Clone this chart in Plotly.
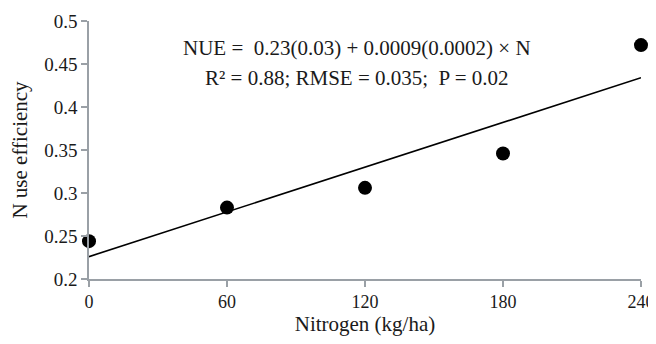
import plotly.graph_objects as go

nitrogen = [0, 60, 120, 180, 240]
nue = [0.244, 0.283, 0.306, 0.346, 0.472]
fit_x = [0, 240]
fit_y = [0.226, 0.434]
x_ticks = [0, 60, 120, 180, 240]
y_ticks = [0.2, 0.25, 0.3, 0.35, 0.4, 0.45, 0.5]
y_tick_labels = ["0.2", "0.25", "0.3", "0.35", "0.4", "0.45", "0.5"]
eq_line1 = "NUE =  0.23(0.03) + 0.0009(0.0002) × N"
eq_line2 = "R² = 0.88; RMSE = 0.035;  P = 0.02"

FONT = "Liberation Serif"
AXIS_COL = "#9aa0a6"
TXT = "#1a1a1a"

fig = go.Figure()
fig.add_trace(go.Scatter(x=fit_x, y=fit_y, mode="lines",
                         line=dict(color="black", width=1.6),
                         showlegend=False, hoverinfo="skip", cliponaxis=False))
fig.add_trace(go.Scatter(x=nitrogen, y=nue, mode="markers",
                         marker=dict(color="black", size=14, symbol="circle"),
                         showlegend=False, cliponaxis=False))

fig.add_annotation(x=0.485, y=0.4686, xref="paper", yref="y", text=eq_line1,
                   showarrow=False, font=dict(family=FONT, size=21, color=TXT))
fig.add_annotation(x=0.485, y=0.4337, xref="paper", yref="y", text=eq_line2,
                   showarrow=False, font=dict(family=FONT, size=21, color=TXT))

# page body has an 8px margin, so the figure is sized to fit inside the window
fig.update_layout(
    width=648, height=336,
    margin=dict(l=81, r=15, t=13, b=65),
    paper_bgcolor="white", plot_bgcolor="white",
    font=dict(family=FONT, color=TXT),
    xaxis=dict(range=[0, 240], tickvals=x_ticks, showgrid=False, zeroline=False,
               automargin=False, ticklabeloverflow="allow",
               showline=True, linecolor=AXIS_COL, linewidth=1.5,
               ticks="outside", ticklen=6, tickcolor=AXIS_COL, tickwidth=1.5,
               ticklabelstandoff=0,
               tickfont=dict(family=FONT, size=18, color=TXT),
               title=dict(text="Nitrogen (kg/ha)", font=dict(family=FONT, size=21, color=TXT),
                          standoff=5)),
    yaxis=dict(range=[0.2, 0.5], tickvals=y_ticks, ticktext=y_tick_labels,
               showgrid=False, zeroline=False, automargin=False,
               showline=True, linecolor=AXIS_COL, linewidth=1.5,
               ticks="outside", ticklen=6, tickcolor=AXIS_COL, tickwidth=1.5,
               tickfont=dict(family=FONT, size=19, color=TXT),
               title=dict(text="N use efficiency", font=dict(family=FONT, size=21, color=TXT),
                          standoff=13)),
)

fig.write_html("out.html")
